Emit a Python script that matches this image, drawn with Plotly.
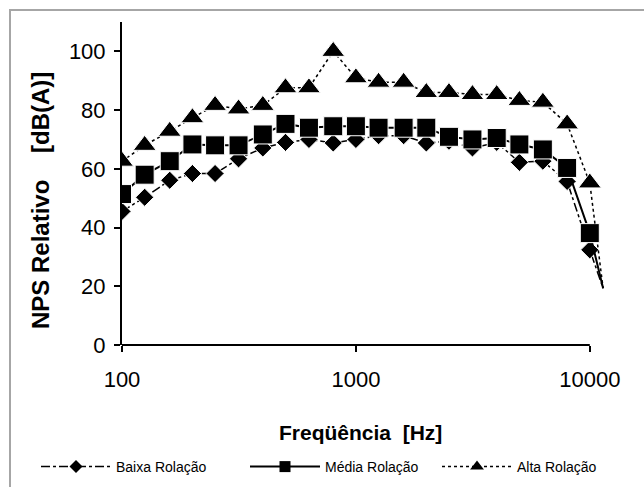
import plotly.graph_objects as go

freq = [100, 125, 160, 200, 250, 315, 400, 500, 630, 800, 1000, 1250, 1600,
        2000, 2500, 3150, 4000, 5000, 6300, 8000, 10000, 11400]
baixa = [45.5, 50.3, 56.1, 58.4, 58.4, 63.4, 67.1, 69.0, 70.0, 68.8, 70.0, 71.3, 71.3,
         68.8, 69.4, 67.1, 69.0, 62.2, 62.6, 55.7, 32.4, 19.3]
media = [51.4, 58.0, 62.6, 68.3, 68.0, 68.0, 71.7, 75.3, 74.0, 74.5, 74.5, 74.0, 74.0,
         74.0, 70.9, 70.0, 70.5, 68.3, 66.6, 60.3, 38.1, 19.3]
alta = [62.6, 68.0, 72.8, 77.4, 81.6, 80.4, 81.6, 87.6, 87.6, 100.0, 91.0, 89.5, 89.5,
        86.0, 86.0, 85.3, 85.3, 83.3, 82.7, 75.3, 55.2, 19.3]
names = ["Baixa Rolação", "Média Rolação", "Alta Rolação"]
x_ticks = [100, 1000, 10000]
y_ticks = [0, 20, 40, 60, 80, 100]

W, H = 644, 487
L, R, T, B = 122, 39, 22, 142
pw, ph = W - L - R, H - T - B
XR = [2, 4.065]


def px(x):
    return (x - L) / pw


def py(y):
    return (H - B - y) / ph


FONT = "Liberation Sans, Arial, sans-serif"
n = len(freq)


def msize(s):
    return [s] * (n - 1) + [0]


series = [
    (baixa, names[0], "diamond", 14, 10, dict(color="black", width=1.5, dash="dashdot"), "legend"),
    (media, names[1], "square", 19, 11, dict(color="black", width=2), "legend2"),
    (alta, names[2], "triangle-up", 20, 12, dict(color="black", width=1.5, dash="dot"), "legend3"),
]

fig = go.Figure()
for vals, nm, sym, sz, lsz, ln, lg in series:
    fig.add_trace(go.Scatter(x=freq, y=vals, name=nm, mode="lines+markers", showlegend=False,
                             line=ln, marker=dict(symbol=sym, size=msize(sz), color="black", opacity=1)))
    # legend-only entry (no data drawn), with the smaller legend marker of the reference
    fig.add_trace(go.Scatter(x=[None], y=[None], name=nm, mode="lines+markers", legend=lg,
                             line=ln, marker=dict(symbol=sym, size=lsz, color="black")))


def leg(xpix):
    return dict(orientation="h", xref="container", yref="container",
                x=xpix / W, y=1 - 467 / H, xanchor="left", yanchor="middle",
                font=dict(size=14, family=FONT), itemwidth=70,
                bgcolor="rgba(0,0,0,0)")


fig.update_layout(
    width=W, height=H,
    margin=dict(l=L, r=R, t=T, b=B, autoexpand=False),
    paper_bgcolor="white", plot_bgcolor="white",
    font=dict(family=FONT, color="black"),
    showlegend=True,
    legend=leg(36), legend2=leg(245), legend3=leg(437),
    xaxis=dict(type="log", range=XR, tickvals=x_ticks, ticktext=[str(v) for v in x_ticks],
               showline=False, showgrid=False, zeroline=False, automargin=False,
               ticks="outside", ticklen=6, tickwidth=2, tickcolor="black",
               tickfont=dict(size=22), ticklabelstandoff=9),
    yaxis=dict(range=[0, 110], tickvals=y_ticks, showline=True, linewidth=2, linecolor="black",
               showgrid=False, zeroline=False, automargin=False,
               ticks="outside", ticklen=6, tickwidth=2, tickcolor="black",
               tickfont=dict(size=22), ticklabelstandoff=4),
    shapes=[
        dict(type="line", xref="paper", yref="paper", x0=0, x1=(4 - XR[0]) / (XR[1] - XR[0]),
             y0=0, y1=0, line=dict(color="black", width=2)),
        dict(type="rect", xref="paper", yref="paper", x0=px(10), x1=px(660), y0=py(500), y1=py(10),
             line=dict(color="#a6a6a6", width=2), layer="below"),
    ],
    annotations=[
        dict(text="<b>Freqüência\u00a0\u00a0[Hz]</b>", xref="paper", yref="paper",
             x=px(360), y=py(432), showarrow=False, font=dict(size=21), xanchor="center", yanchor="middle"),
        dict(text="<b>NPS Relativo\u00a0\u00a0\u00a0\u00a0[dB(A)]</b>", xref="paper", yref="paper",
             x=px(40), y=py(201), showarrow=False, textangle=-90, font=dict(size=24),
             xanchor="center", yanchor="middle"),
    ],
)

fig.write_html("out.html", config={"displayModeBar": False},
               post_script="document.body.style.margin='0';document.body.style.overflow='hidden';")
